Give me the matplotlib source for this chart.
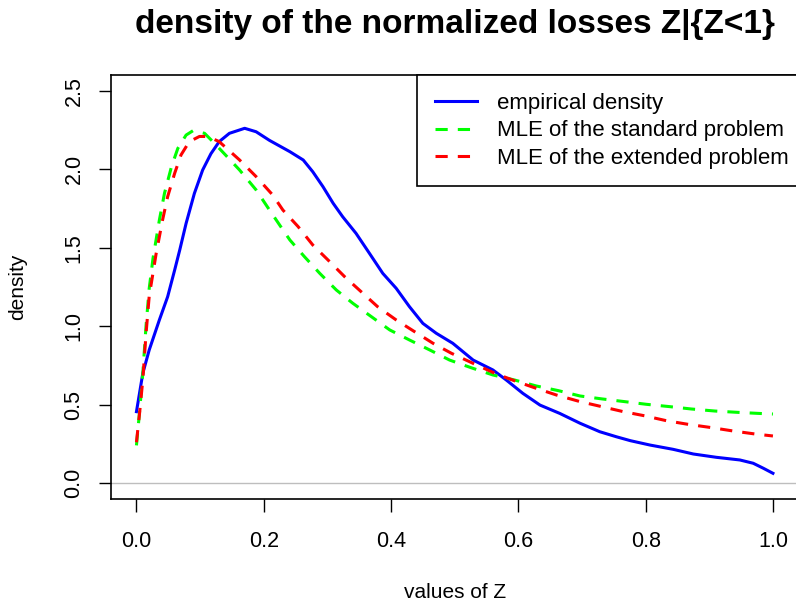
import matplotlib
matplotlib.use("Agg")
import matplotlib.pyplot as plt

plt.rcParams['font.family'] = ['Liberation Sans', 'DejaVu Sans']

# empirical density
z_emp = [0.0, 0.010, 0.020, 0.036, 0.049, 0.060, 0.068, 0.078, 0.091, 0.104, 0.117, 0.130,
         0.146, 0.170, 0.188, 0.209, 0.241, 0.262, 0.277, 0.293, 0.309, 0.324, 0.345, 0.366,
         0.387, 0.408, 0.429, 0.450, 0.471, 0.497, 0.529, 0.560, 0.581, 0.607, 0.634, 0.665,
         0.697, 0.728, 0.754, 0.776, 0.807, 0.843, 0.875, 0.911, 0.948, 0.969, 0.985, 1.0]
d_emp = [0.455, 0.700, 0.848, 1.040, 1.188, 1.358, 1.486, 1.656, 1.847, 1.996, 2.100, 2.177,
         2.230, 2.262, 2.240, 2.185, 2.113, 2.060, 1.985, 1.890, 1.784, 1.698, 1.592, 1.465,
         1.337, 1.242, 1.124, 1.018, 0.955, 0.891, 0.784, 0.721, 0.657, 0.572, 0.497, 0.444,
         0.381, 0.327, 0.295, 0.270, 0.242, 0.215, 0.185, 0.164, 0.147, 0.126, 0.094, 0.062]

# MLE of the standard problem
z_std = [0.0, 0.005, 0.010, 0.015, 0.020, 0.026, 0.036, 0.044, 0.055, 0.065, 0.078, 0.089,
         0.107, 0.120, 0.138, 0.162, 0.188, 0.209, 0.225, 0.241, 0.264, 0.288, 0.314, 0.340,
         0.369, 0.398, 0.429, 0.461, 0.492, 0.526, 0.560, 0.594, 0.628, 0.663, 0.697, 0.732,
         0.767, 0.801, 0.838, 0.872, 0.909, 0.943, 0.977, 1.0]
d_std = [0.240, 0.460, 0.700, 1.000, 1.240, 1.433, 1.677, 1.847, 2.017, 2.134, 2.219, 2.247,
         2.230, 2.177, 2.100, 1.996, 1.869, 1.741, 1.645, 1.550, 1.443, 1.337, 1.231, 1.146,
         1.061, 0.976, 0.912, 0.848, 0.784, 0.735, 0.689, 0.657, 0.619, 0.589, 0.555, 0.536,
         0.519, 0.502, 0.487, 0.472, 0.459, 0.451, 0.444, 0.440]

# MLE of the extended problem
z_ext = [0.0, 0.005, 0.010, 0.015, 0.020, 0.031, 0.041, 0.049, 0.060, 0.070, 0.083, 0.099,
         0.112, 0.130, 0.162, 0.188, 0.214, 0.230, 0.254, 0.277, 0.301, 0.327, 0.353, 0.379,
         0.408, 0.437, 0.466, 0.495, 0.529, 0.563, 0.594, 0.628, 0.660, 0.697, 0.731, 0.765,
         0.798, 0.833, 0.867, 0.904, 0.937, 0.973, 1.0]
d_ext = [0.260, 0.450, 0.660, 0.950, 1.190, 1.465, 1.677, 1.826, 1.975, 2.092, 2.177, 2.210,
         2.210, 2.177, 2.060, 1.954, 1.837, 1.741, 1.635, 1.518, 1.422, 1.316, 1.220, 1.124,
         1.040, 0.965, 0.891, 0.827, 0.763, 0.700, 0.652, 0.604, 0.561, 0.519, 0.487, 0.455,
         0.429, 0.397, 0.374, 0.353, 0.332, 0.312, 0.300]

x_ticks = [0.0, 0.2, 0.4, 0.6, 0.8, 1.0]
x_tick_labels = ["0.0", "0.2", "0.4", "0.6", "0.8", "1.0"]
y_ticks = [0.0, 0.5, 1.0, 1.5, 2.0, 2.5]
y_tick_labels = ["0.0", "0.5", "1.0", "1.5", "2.0", "2.5"]

W, H = 796, 606
fig = plt.figure(figsize=(W / 100, H / 100), dpi=100)
left, right, top, bottom = 111, 798.4, 75.3, 498.7
ax = fig.add_axes([left / W, 1 - bottom / H, (right - left) / W, (bottom - top) / H])

ax.axhline(0, color='#bebebe', lw=1.0, zorder=1)
lw = 2.2
ax.plot(z_emp, d_emp, color='#0000ff', lw=lw, label='empirical density', zorder=3)
ax.plot(z_std, d_std, color='#00ff00', lw=lw, dashes=(4, 3.3), label='MLE of the standard problem', zorder=4)
ax.plot(z_ext, d_ext, color='#ff0000', lw=lw, dashes=(4, 3.3), label='MLE of the extended problem', zorder=5)

ax.set_xlim(-0.04, 1.04)
ax.set_ylim(-0.1, 2.6)
ax.set_xticks(x_ticks)
ax.set_xticklabels(x_tick_labels, fontsize=15.5)
ax.set_yticks(y_ticks)
ax.set_yticklabels(y_tick_labels, fontsize=15.5, rotation=90, va='center')
ax.tick_params(direction='out', length=9, width=1)
ax.tick_params(axis='x', pad=14.5)
ax.tick_params(axis='y', pad=10)
for s in ax.spines.values():
    s.set_linewidth(1.2)

fig.text(455 / W, 1 - 24 / H, 'density of the normalized losses Z|{Z<1}', ha='center', va='center',
         fontsize=24, fontweight='bold')
fig.text(455 / W, 1 - 593 / H, 'values of Z', ha='center', va='center', fontsize=15)
fig.text(18 / W, 1 - 287 / H, 'density', ha='center', va='center', fontsize=15, rotation=90)

leg = ax.legend(loc='upper right', bbox_to_anchor=(1.0124, 1.0), borderaxespad=0, fontsize=16,
                frameon=True, fancybox=False, edgecolor='black', framealpha=1,
                handlelength=1.9, handletextpad=0.9, borderpad=0.8, labelspacing=0.28)
leg.get_frame().set_linewidth(1.2)

fig.savefig('out.png', dpi=100)
